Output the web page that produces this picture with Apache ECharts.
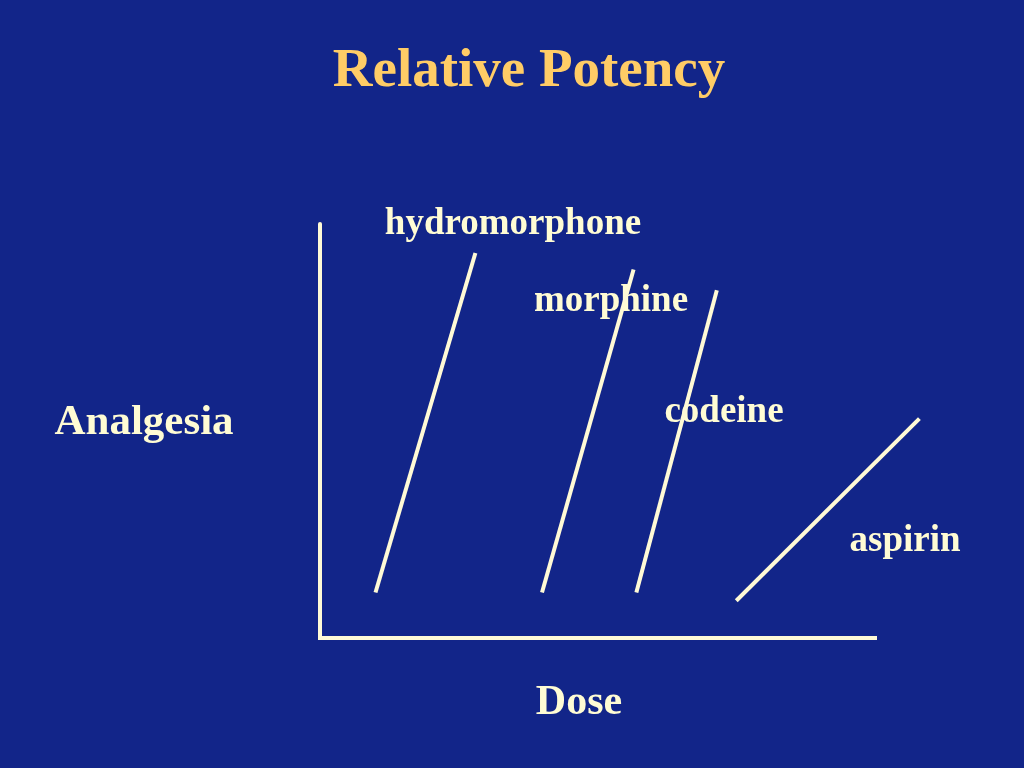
<!DOCTYPE html>
<html>
<head>
<meta charset="utf-8">
<style>
html,body{margin:0;padding:0;background:#122589;}
#chart{width:1024px;height:768px;}
</style>
<script src="https://cdn.jsdelivr.net/npm/echarts@6/dist/echarts.min.js"></script>
</head>
<body>
<div id="chart"></div>
<script>
// Data (schematic dose-response lines)
var drugs = ['hydromorphone', 'morphine', 'codeine', 'aspirin'];
var doseLow = [10, 40, 57, 75];
var doseHigh = [28, 56.5, 71.5, 108];
var effectLow = [11, 11, 11, 9];
var effectHigh = [93, 89, 84, 53];

// drawn extent of the dose axis line
var doseAxisStart = 0;
var doseAxisEnd = 100;

var titleText = 'Relative Potency';
var xName = 'Dose';
var yName = 'Analgesia';

var lineColor = '#FFFAD6';
var textColor = '#FFFCD4';
var fontFam = '"Liberation Serif","Times New Roman",serif';

var series = drugs.map(function (name, i) {
  return {
    name: name,
    type: 'line',
    silent: true,
    symbol: 'none',
    lineStyle: { color: lineColor, width: 4, cap: 'butt' },
    data: [[doseLow[i], effectLow[i]], [doseHigh[i], effectHigh[i]]]
  };
});
series.push({
  name: 'doseAxis',
  type: 'line',
  silent: true,
  symbol: 'none',
  lineStyle: { color: lineColor, width: 4, cap: 'square' },
  data: [[doseAxisStart, 0], [doseAxisEnd, 0]]
});

var labelPos = {
  hydromorphone: [513, 224],
  morphine: [611, 301],
  codeine: [724, 412],
  aspirin: [905, 541]
};

var graphics = drugs.map(function (name) {
  return {
    type: 'text',
    x: labelPos[name][0], y: labelPos[name][1],
    style: { text: name, fill: textColor, font: 'bold 37px ' + fontFam, align: 'center', verticalAlign: 'middle' }
  };
});
graphics.push({
  type: 'text', x: 144, y: 423,
  style: { text: yName, fill: textColor, font: 'bold 43px ' + fontFam, align: 'center', verticalAlign: 'middle' }
});
graphics.push({
  type: 'text', x: 579, y: 703,
  style: { text: xName, fill: textColor, font: 'bold 42px ' + fontFam, align: 'center', verticalAlign: 'middle' }
});
graphics.push({
  type: 'text', x: 529, y: 72,
  style: { text: titleText, fill: '#FFCC66', font: 'bold 55px ' + fontFam, align: 'center', verticalAlign: 'middle' }
});

var chart = echarts.init(document.getElementById('chart'));
chart.setOption({
  backgroundColor: '#122589',
  animation: false,
  grid: { left: 320, right: 93.5, top: 224, bottom: 130 },
  xAxis: {
    type: 'value', min: 0, max: 110,
    axisLine: { show: false },
    axisTick: { show: false }, axisLabel: { show: false }, splitLine: { show: false }
  },
  yAxis: {
    type: 'value', min: 0, max: 100,
    axisLine: { show: true, onZero: false, lineStyle: { color: lineColor, width: 4 } },
    axisTick: { show: false }, axisLabel: { show: false }, splitLine: { show: false }
  },
  series: series,
  graphic: graphics
});
</script>
</body>
</html>
